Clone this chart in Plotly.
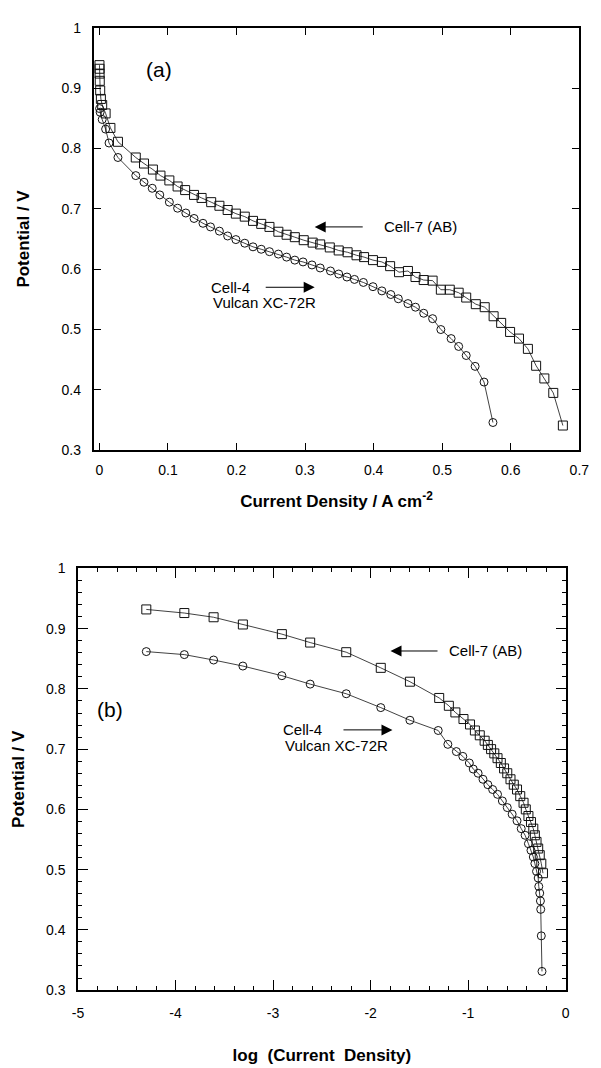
import plotly.graph_objects as go

# ---------------- data: panel (a) ----------------
cd7_a = [0.00005, 0.00012, 0.00023, 0.00046, 0.0011, 0.0021, 0.004, 0.009, 0.016, 0.027,
         0.053, 0.065, 0.078, 0.089, 0.102, 0.114, 0.125, 0.138, 0.149, 0.163,
         0.175, 0.187, 0.199, 0.212, 0.224, 0.236, 0.248, 0.261, 0.273, 0.285,
         0.298, 0.311, 0.322, 0.336, 0.349, 0.362, 0.375, 0.386, 0.399, 0.412,
         0.424, 0.437, 0.450, 0.461, 0.473, 0.486, 0.498, 0.511, 0.524, 0.535,
         0.549, 0.562, 0.575, 0.586, 0.599, 0.612, 0.625, 0.637, 0.649, 0.662, 0.676]
v7_a = [0.938, 0.932, 0.924, 0.912, 0.896, 0.882, 0.872, 0.858, 0.834, 0.811,
        0.785, 0.775, 0.765, 0.755, 0.747, 0.737, 0.731, 0.723, 0.718, 0.711,
        0.705, 0.698, 0.692, 0.687, 0.680, 0.675, 0.670, 0.662, 0.657, 0.653,
        0.648, 0.644, 0.641, 0.636, 0.631, 0.628, 0.623, 0.620, 0.615, 0.612,
        0.605, 0.595, 0.597, 0.587, 0.582, 0.581, 0.566, 0.566, 0.561, 0.553,
        0.542, 0.537, 0.522, 0.511, 0.496, 0.485, 0.468, 0.440, 0.419, 0.395, 0.341]

cd4_a = [0.0002, 0.001, 0.004, 0.009, 0.014, 0.027,
         0.053, 0.065, 0.077, 0.088, 0.102,
         0.114, 0.126, 0.138, 0.151, 0.162, 0.175, 0.187, 0.199, 0.212, 0.224,
         0.236, 0.248, 0.261, 0.273, 0.285, 0.297, 0.310, 0.322, 0.337, 0.349,
         0.361, 0.372, 0.385, 0.399, 0.412, 0.425, 0.436, 0.450, 0.461, 0.473,
         0.486, 0.498, 0.513, 0.524, 0.535, 0.548, 0.561, 0.574]
v4_a = [0.866, 0.860, 0.848, 0.832, 0.809, 0.785,
        0.755, 0.744, 0.734, 0.723, 0.711,
        0.701, 0.693, 0.684, 0.676, 0.670, 0.663, 0.655, 0.649, 0.643, 0.637,
        0.633, 0.629, 0.625, 0.620, 0.615, 0.612, 0.607, 0.602, 0.597, 0.592,
        0.587, 0.583, 0.578, 0.571, 0.564, 0.558, 0.551, 0.543, 0.537, 0.527,
        0.518, 0.500, 0.485, 0.472, 0.457, 0.439, 0.413, 0.346]

# ---------------- data: panel (b) ----------------
logj7_b = [-4.30, -3.91, -3.61, -3.31, -2.91, -2.62, -2.25,
           -1.896, -1.597, -1.297, -1.198, -1.131, -1.048, -0.981, -0.931, -0.881, -0.831,
           -0.798, -0.765, -0.732, -0.699, -0.665, -0.632, -0.599, -0.566, -0.532, -0.499,
           -0.466, -0.432, -0.409, -0.382, -0.356, -0.332, -0.316, -0.299, -0.282, -0.266,
           -0.250, -0.233]
v7_b = [0.932, 0.926, 0.919, 0.907, 0.891, 0.877, 0.861,
        0.835, 0.812, 0.785, 0.772, 0.761, 0.750, 0.741, 0.731, 0.723, 0.714,
        0.707, 0.700, 0.693, 0.685, 0.677, 0.668, 0.660, 0.650, 0.641, 0.633,
        0.622, 0.611, 0.600, 0.589, 0.579, 0.568, 0.557, 0.546, 0.535, 0.524,
        0.510, 0.494]

logj4_b = [-4.30, -3.91, -3.61, -3.31, -2.91, -2.62, -2.25,
           -1.896, -1.597, -1.307, -1.208, -1.121, -1.055, -0.988, -0.948, -0.898, -0.848,
           -0.798, -0.749, -0.699, -0.649, -0.599, -0.549, -0.499, -0.456, -0.416, -0.382,
           -0.356, -0.332, -0.316, -0.299, -0.282, -0.276, -0.266, -0.259, -0.256, -0.250,
           -0.243]
v4_b = [0.862, 0.857, 0.848, 0.838, 0.822, 0.808, 0.792,
        0.769, 0.748, 0.731, 0.708, 0.696, 0.688, 0.677, 0.667, 0.660, 0.650,
        0.641, 0.633, 0.625, 0.614, 0.603, 0.592, 0.581, 0.568, 0.557, 0.543,
        0.532, 0.521, 0.510, 0.497, 0.486, 0.472, 0.461, 0.448, 0.434, 0.390,
        0.331]

xticks_a = [0, 0.1, 0.2, 0.3, 0.4, 0.5, 0.6, 0.7]
xticks_b = [-5, -4, -3, -2, -1, 0]
xticklabels_b = ["-5", "-4", "-3", "-2", "-1", "0"]
yticks = [0.3, 0.4, 0.5, 0.6, 0.7, 0.8, 0.9, 1.0]
yticklabels = ["0.3", "0.4", "0.5", "0.6", "0.7", "0.8", "0.9", "1"]

FONT = "Liberation Sans, Arial, Helvetica, sans-serif"
INK = "#111111"

fig = go.Figure()

def add_series(x, y, symbol, size, xa, ya):
    fig.add_trace(go.Scatter(
        x=x, y=y, mode="lines+markers", xaxis=xa, yaxis=ya,
        line=dict(color=INK, width=0.8),
        marker=dict(symbol=symbol, size=size, color=INK, line=dict(color=INK, width=1)),
        showlegend=False, hoverinfo="skip"))

add_series(cd7_a, v7_a, "square-open", 9, "x", "y")
add_series(cd4_a, v4_a, "circle-open", 8, "x", "y")
add_series(logj7_b, v7_b, "square-open", 9, "x2", "y2")
add_series(logj4_b, v4_b, "circle-open", 8, "x2", "y2")

W, H = 601, 1068
tickfont = dict(family=FONT, size=14, color="black")
titlefont = dict(family=FONT, size=17, color="black")

axis_common = dict(showline=True, linecolor="black", linewidth=1.5, mirror="ticks",
                   ticks="inside", tickcolor="black", tickwidth=1, showgrid=False,
                   zeroline=False, tickfont=tickfont)

fig.update_layout(
    width=W, height=H, margin=dict(l=0, r=0, t=0, b=0),
    paper_bgcolor="white", plot_bgcolor="white",
    xaxis=dict(domain=[90 / W, 589 / W], range=[-0.00852, 0.7], anchor="y",
               tickvals=xticks_a, ticktext=[str(v) for v in xticks_a],
               ticklen=8, ticklabelstandoff=6,
               title=dict(text="<b>Current Density / A cm<sup>-2</sup></b>",
                          font=titlefont, standoff=18),
               **axis_common),
    yaxis=dict(domain=[1 - 449 / H, 1 - 20 / H], range=[0.3, 1.0], anchor="x",
               tickvals=yticks, ticktext=yticklabels,
               ticklen=8, ticklabelstandoff=8,
               title=dict(text="<b>Potential / V</b>", font=titlefont, standoff=28),
               **axis_common),
    xaxis2=dict(domain=[74 / W, 575 / W], range=[-5, 0], anchor="y2",
                tickvals=xticks_b, ticktext=xticklabels_b,
                ticklen=10, ticklabelstandoff=9,
                minor=dict(dtick=0.2, ticklen=4, ticks="inside", tickcolor="black"),
                title=dict(text="<b>log\u00a0 (Current\u00a0 Density)</b>",
                           font=titlefont, standoff=29),
                **axis_common),
    yaxis2=dict(domain=[1 - 997 / H, 1 - 569 / H], range=[0.3, 1.0], anchor="x2",
                tickvals=yticks, ticktext=yticklabels,
                ticklen=10, ticklabelstandoff=8,
                minor=dict(dtick=0.02, ticklen=4, ticks="inside", tickcolor="black"),
                title=dict(text="<b>Potential / V</b>", font=titlefont, standoff=17),
                **axis_common),
)

ann = []
txt = dict(family=FONT, size=15, color="black")
arrow = dict(showarrow=True, arrowhead=2, arrowsize=2.2, arrowwidth=1,
             arrowcolor="black", standoff=0, ay=0)

# panel (a) labels (arrow tip at x,y; text box offset by ax pixels)
ann.append(dict(text="(a)", xref="x", yref="y", x=0.0866, y=0.9315, showarrow=False,
                font=dict(family=FONT, size=21, color="black")))
ann.append(dict(text="Cell-7 (AB)", xref="x", yref="y", x=0.314, y=0.670, ax=106,
                borderpad=21, font=txt, **arrow))
ann.append(dict(text="Cell-4", xref="x", yref="y", x=0.314, y=0.570, ax=-84,
                borderpad=15, font=txt, **arrow))
ann.append(dict(text="Vulcan XC-72R", xref="x", yref="y", x=0.163, y=0.545, showarrow=False,
                font=txt, xanchor="left", yanchor="middle"))

# panel (b) labels
ann.append(dict(text="(b)", xref="x2", yref="y2", x=-4.67, y=0.766, showarrow=False,
                font=dict(family=FONT, size=21, color="black")))
ann.append(dict(text="Cell-7 (AB)", xref="x2", yref="y2", x=-1.796, y=0.863, ax=95,
                borderpad=11, font=txt, **arrow))
ann.append(dict(text="Cell-4", xref="x2", yref="y2", x=-1.776, y=0.732, ax=-90,
                borderpad=21, font=txt, **arrow))
ann.append(dict(text="Vulcan XC-72R", xref="x2", yref="y2", x=-2.894, y=0.706, showarrow=False,
                font=txt, xanchor="left", yanchor="middle"))

fig.update_layout(annotations=ann)
fig.write_html("out.html")
